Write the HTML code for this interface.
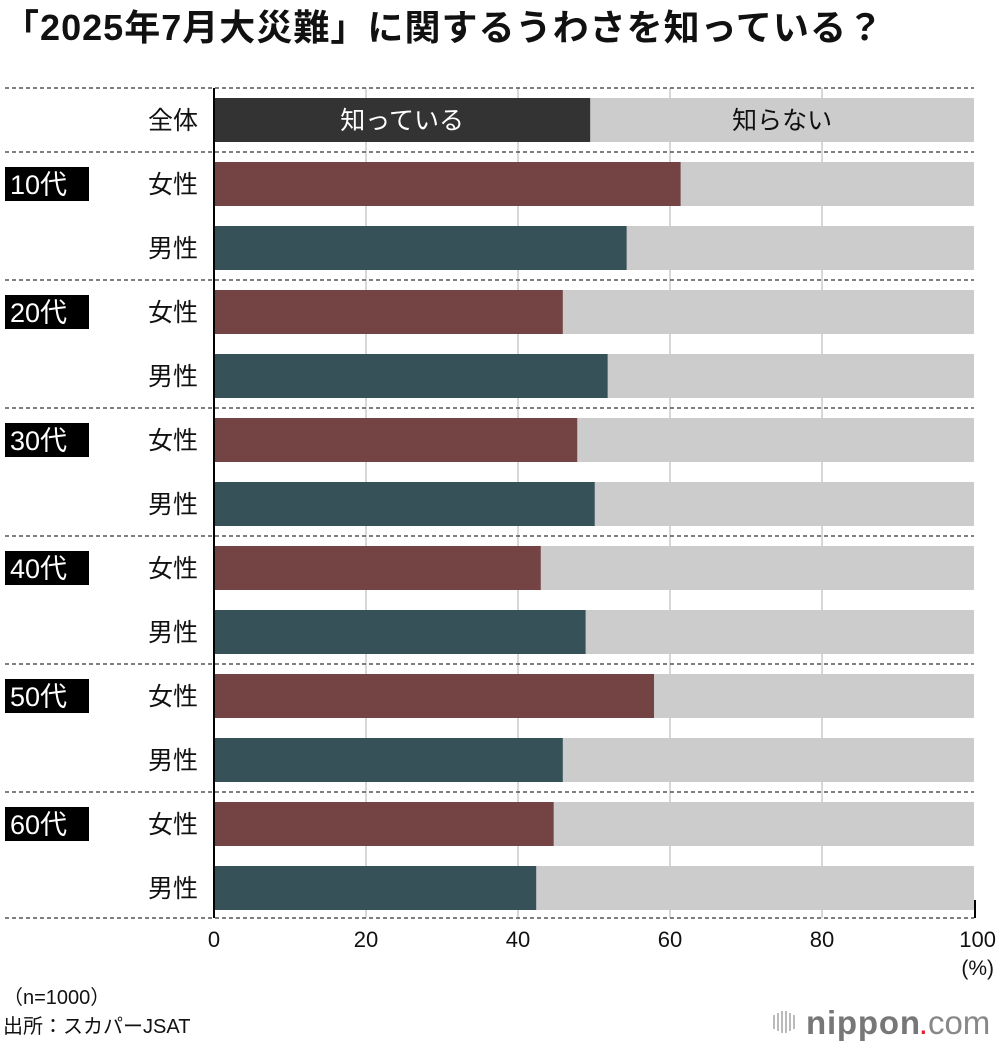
<!DOCTYPE html>
<html><head><meta charset="utf-8">
<style>
html,body{margin:0;padding:0;background:#fff;}
svg{display:block;font-family:"Liberation Sans","Noto Sans CJK JP",sans-serif;}
</style></head>
<body>
<svg id="chart" width="1000" height="1046" viewBox="0 0 1000 1046">
<text x="3" y="40" font-size="36" font-weight="bold" fill="#111" textLength="880" lengthAdjust="spacing">「2025年7月大災難」に関するうわさを知っている？</text>
<g id="grid"></g>
<g id="bars"></g>
<g id="labels"></g>
<text x="994" y="975" font-size="21" text-anchor="end" fill="#111">(%)</text>
<text x="3" y="1004" font-size="20" fill="#111">（n=1000）</text>
<text x="3" y="1033" font-size="20" fill="#111">出所：スカパーJSAT</text>
<g>
<g fill="#bbb"><rect x="773" y="1015" width="2" height="14"/><rect x="777" y="1013" width="2" height="18"/><rect x="781" y="1011" width="2" height="22"/><rect x="785" y="1011" width="2" height="22"/><rect x="789" y="1013" width="2" height="18"/><rect x="793" y="1015" width="2" height="14"/></g>
<text x="806" y="1034" font-size="33" fill="#777"><tspan font-weight="bold" textLength="114" lengthAdjust="spacing">nippon</tspan><tspan fill="#e6212e" dx="-2">.</tspan><tspan fill="#888">com</tspan></text>
</g>
</svg>
<script>
const categories = ["全体","女性","男性","女性","男性","女性","男性","女性","男性","女性","男性","女性","男性"];
const ageGroups = ["","10代","","20代","","30代","","40代","","50代","","60代",""];
const knowValues = [49.5,61.4,54.3,45.9,51.8,47.8,50.1,43.0,48.9,57.9,45.9,44.7,42.4];
const tickValues = [0,20,40,60,80,100];
const tickLabels = ["0","20","40","60","80","100"];
const NS="http://www.w3.org/2000/svg";
const x0=214,x1=974,rowH=64,barH=44;
const xs=v=>x0+(x1-x0)*v/100;
const rowCenter=i=>120+i*rowH;
function mk(tag,attrs,parent){const e=document.createElementNS(NS,tag);for(const k in attrs)e.setAttribute(k,attrs[k]);parent.appendChild(e);return e;}
const grid=document.getElementById('grid'),bars=document.getElementById('bars'),labels=document.getElementById('labels');
tickValues.forEach((t,i)=>{
  if(t>0&&t<100){const l=mk('line',{x1:xs(t),x2:xs(t),y1:88,y2:918,stroke:'#ccc','stroke-width':1.5},grid);
  
  }
  const tx=mk('text',{x:xs(t),y:947,'font-size':22,'text-anchor':t===100?'end':'middle',fill:'#111'},labels);
  if(t===100)tx.setAttribute('x',x1+22);
  tx.textContent=tickLabels[i];
  
  
});
const seps=[88,152,280,408,536,664,792,918];
seps.forEach(y=>{const l=mk('line',{x1:5,x2:974,y1:y,y2:y,stroke:'#555','stroke-width':1.5,'stroke-dasharray':'4 3'},grid);

});
knowValues.forEach((v,i)=>{
  const cy=rowCenter(i),y=cy-barH/2;
  const color=i===0?'#333333':(categories[i]==='女性'?'#744344':'#365157');
  const r=mk('rect',{x:xs(v),y:y,width:xs(100)-xs(v),height:barH,fill:'#cccccc'},bars);
  
  
  const b=mk('rect',{x:x0,y:y,width:xs(v)-x0,height:barH,fill:color},bars);
  
  
  const t=mk('text',{x:198,y:cy+9,'font-size':25,'text-anchor':'end',fill:'#111'},labels);
  t.textContent=categories[i];
  
  
  if(ageGroups[i]){
    const g=mk('rect',{x:5,y:cy-17,width:84,height:34,fill:'#000'},labels);
    
    
    const at=mk('text',{x:10,y:cy+10,'font-size':27,fill:'#fff'},labels);
    at.textContent=ageGroups[i];
    
    
  }
  if(i===0){
    const a=mk('text',{x:(x0+xs(v))/2,y:cy+9,'font-size':25,'text-anchor':'middle',fill:'#fff'},labels);
    a.textContent='知っている';
    
    
    const n=mk('text',{x:(xs(v)+x1)/2,y:cy+9,'font-size':25,'text-anchor':'middle',fill:'#111'},labels);
    n.textContent='知らない';
    
    
  }
});
const ax=mk('line',{x1:x0,x2:x0,y1:88,y2:918,stroke:'#000','stroke-width':2},labels);


const ax2=mk('line',{x1:x1+1,x2:x1+1,y1:900,y2:918,stroke:'#000','stroke-width':2},labels);


</script>
</body></html>
